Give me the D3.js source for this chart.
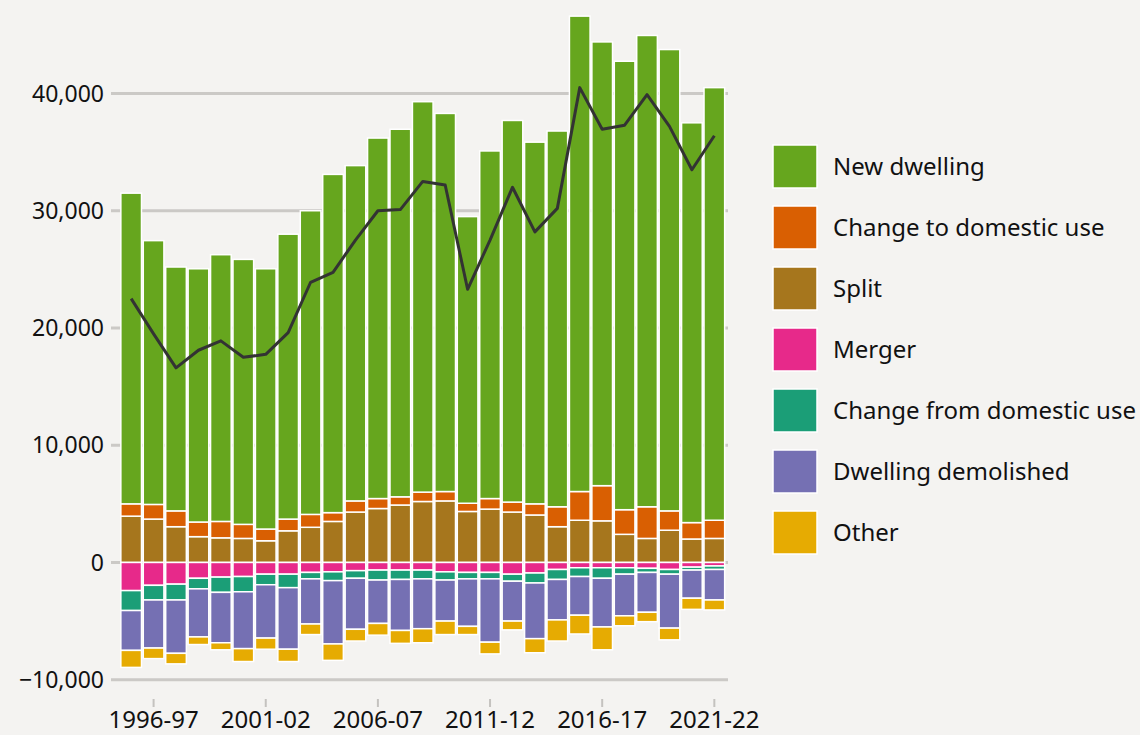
<!DOCTYPE html>
<html>
<head>
<meta charset="utf-8">
<style>
  body { margin: 0; background: #f4f3f1; }
  svg { display: block; font-family: "Noto Sans", sans-serif; }
</style>
</head>
<body>
<svg id="chart" width="1140" height="735"></svg>
<script src="https://cdn.jsdelivr.net/npm/d3@7"></script>
<script>
// financial years, one bar each
var years = ["1995-96", "1996-97", "1997-98", "1998-99", "1999-00", "2000-01", "2001-02",
  "2002-03", "2003-04", "2004-05", "2005-06", "2006-07", "2007-08", "2008-09", "2009-10",
  "2010-11", "2011-12", "2012-13", "2013-14", "2014-15", "2015-16", "2016-17", "2017-18",
  "2018-19", "2019-20", "2020-21", "2021-22"];
var xTickLabels = ["1996-97", "2001-02", "2006-07", "2011-12", "2016-17", "2021-22"];
var yTicks = [-10000, 0, 10000, 20000, 30000, 40000];

// gains
var newDwelling = [26500, 22500, 20800, 21600, 22750, 22600, 22200, 24300, 25900, 28850, 28600,
  30750, 31350, 33300, 32250, 24450, 29650, 32550, 30850, 32050, 40550, 37850, 38250, 40200,
  39350, 34100, 36900];
var changeToDomestic = [1050, 1250, 1350, 1250, 1400, 1200, 1000, 1000, 1100, 750, 950, 850, 700,
  800, 800, 700, 900, 850, 950, 1700, 2450, 3000, 2100, 2700, 1650, 1400, 1550];
var split = [3950, 3700, 3050, 2200, 2100, 2050, 1850, 2700, 3000, 3500, 4300, 4600, 4900, 5200,
  5250, 4350, 4550, 4300, 4050, 3050, 3600, 3550, 2400, 2050, 2750, 2000, 2050];

// losses (drawn below zero)
var merger = [2400, 1950, 1850, 1350, 1250, 1200, 1000, 1000, 850, 800, 700, 650, 650, 650, 800,
  850, 850, 1000, 900, 600, 450, 450, 450, 500, 600, 400, 300];
var changeFromDomestic = [1700, 1250, 1350, 900, 1300, 1300, 900, 1150, 550, 750, 650, 850, 800,
  750, 700, 550, 550, 600, 850, 850, 750, 900, 550, 350, 400, 250, 300];
var demolished = [3400, 4100, 4550, 4100, 4300, 4850, 4550, 5250, 3850, 5400, 4350, 3700, 4350,
  4250, 3500, 4050, 5400, 3400, 4750, 3450, 3300, 4150, 3550, 3400, 4600, 2400, 2600];
var other = [1450, 900, 900, 650, 600, 1100, 950, 1050, 900, 1400, 1000, 1000, 1100, 1200, 1150,
  700, 1000, 750, 1200, 1800, 1600, 1950, 850, 800, 1000, 950, 850];

// net additions (line)
var netChange = [22500, 19500, 16600, 18100, 18900, 17500, 17750, 19600, 23900, 24750, 27500,
  30000, 30100, 32500, 32200, 23300, 27500, 32000, 28200, 30200, 40500, 36950, 37300, 39900,
  37200, 33500, 36400];

var series = [
  { key: "split", label: "Split", values: split, sign: 1, color: "#a6761d" },
  { key: "changeTo", label: "Change to domestic use", values: changeToDomestic, sign: 1, color: "#d95f02" },
  { key: "newDwelling", label: "New dwelling", values: newDwelling, sign: 1, color: "#66a61e" },
  { key: "merger", label: "Merger", values: merger, sign: -1, color: "#e7298a" },
  { key: "changeFrom", label: "Change from domestic use", values: changeFromDomestic, sign: -1, color: "#1b9e77" },
  { key: "demolished", label: "Dwelling demolished", values: demolished, sign: -1, color: "#7570b3" },
  { key: "other", label: "Other", values: other, sign: -1, color: "#e6ab02" }
];
var legendOrder = ["newDwelling", "changeTo", "split", "merger", "changeFrom", "demolished", "other"];

var rows = years.map(function (y, i) {
  var r = { year: y };
  series.forEach(function (s) { r[s.key] = s.sign * s.values[i]; });
  return r;
});

var svg = d3.select("#chart");

var x = d3.scaleBand().domain(years).range([119.5, 726]).paddingInner(0.08).paddingOuter(0.06);
var y = d3.scaleLinear().domain([-10000, 40000]).range([679.7, 93.5]);

// gridlines
svg.append("g").selectAll("line").data(yTicks).enter().append("line")
  .attr("x1", 111).attr("x2", 728)
  .attr("y1", function (d) { return y(d); }).attr("y2", function (d) { return y(d); })
  .attr("stroke", "#cbc9c6").attr("stroke-width", 3);

// y labels
svg.append("g").selectAll("text").data(yTicks).enter().append("text")
  .attr("x", 104).attr("y", function (d) { return y(d); })
  .attr("dy", "0.35em").attr("text-anchor", "end")
  .attr("font-size", 23).attr("fill", "#111")
  .text(function (d) { return d3.format(",")(d); });

// stacked bars
var stack = d3.stack().keys(series.map(function (s) { return s.key; }))
  .offset(d3.stackOffsetDiverging);
var layers = stack(rows);

svg.append("g").selectAll("g").data(layers).enter().append("g")
  .attr("fill", function (d, i) { return series[i].color; })
  .selectAll("rect").data(function (d) { return d; }).enter().append("rect")
  .attr("x", function (d) { return x(d.data.year); })
  .attr("width", x.bandwidth())
  .attr("y", function (d) { return y(d[1]); })
  .attr("height", function (d) { return Math.abs(y(d[0]) - y(d[1])); })
  .attr("stroke", "#ffffff").attr("stroke-width", 1.5);

// net line
var line = d3.line()
  .x(function (d, i) { return x(years[i]) + x.bandwidth() / 2; })
  .y(function (d) { return y(d); });
svg.append("path").datum(netChange)
  .attr("d", line).attr("fill", "none")
  .attr("stroke", "#333333").attr("stroke-width", 3).attr("stroke-linejoin", "round");

// x axis ticks and labels
var xg = svg.append("g").selectAll("g").data(xTickLabels).enter().append("g")
  .attr("transform", function (d) { return "translate(" + (x(d) + x.bandwidth() / 2) + ",0)"; });
xg.append("line").attr("y1", 699).attr("y2", 707)
  .attr("stroke", "#c4c2bf").attr("stroke-width", 2);
xg.append("text").attr("y", 727.5).attr("text-anchor", "middle")
  .attr("font-size", 24).attr("fill", "#111")
  .text(function (d) { return d; });

// legend
var legend = svg.append("g").selectAll("g").data(legendOrder).enter().append("g")
  .attr("transform", function (d, i) { return "translate(773," + (145 + i * 61) + ")"; });
legend.append("rect").attr("width", 44).attr("height", 43)
  .attr("fill", function (k) { return series.find(function (s) { return s.key === k; }).color; })
  .attr("stroke", "#ffffff").attr("stroke-width", 1.5);
legend.append("text").attr("x", 60).attr("y", 22).attr("dy", "0.35em")
  .attr("font-size", 24).attr("fill", "#111")
  .text(function (k) { return series.find(function (s) { return s.key === k; }).label; });
</script>
</body>
</html>
